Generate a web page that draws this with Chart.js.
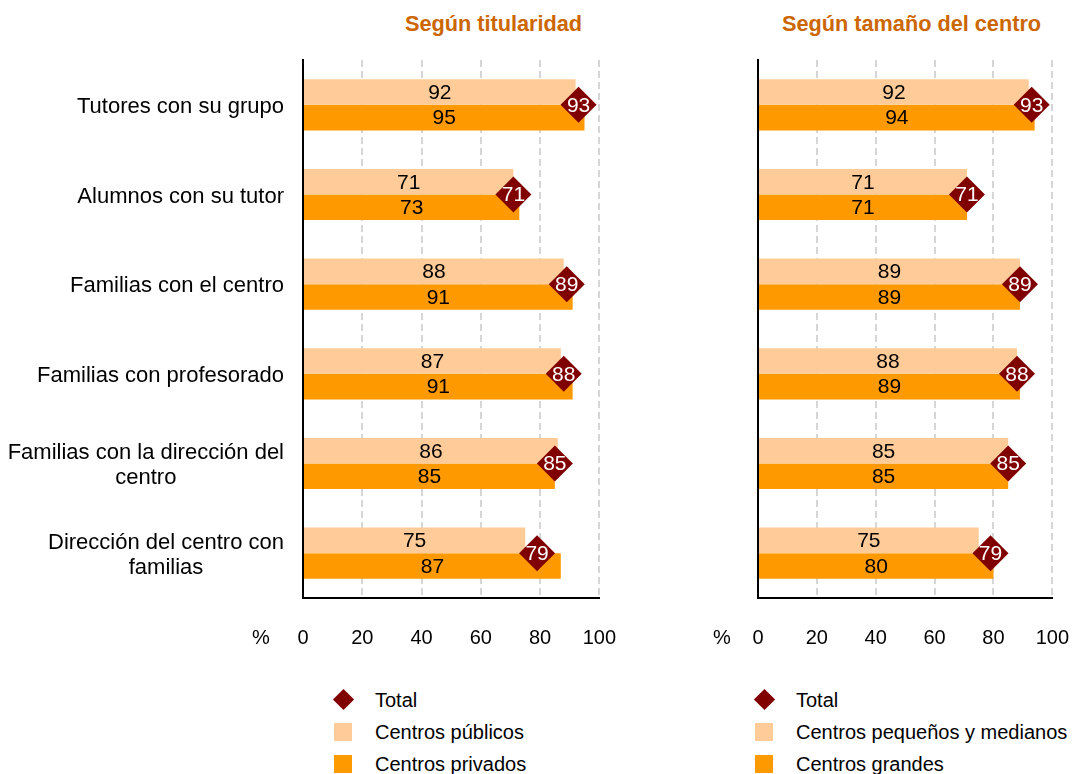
<!DOCTYPE html>
<html lang="es">
<head>
<meta charset="utf-8">
<script src="https://cdn.jsdelivr.net/npm/chart.js@4"></script>
<style>
    body { margin: 0; background: #fff; font-family: "Liberation Sans", Arial, sans-serif; }
    #page { position: relative; width: 1087px; height: 774px; overflow: hidden; }
    .box { position: absolute; top: 0; height: 680px; }
    .title { position: absolute; top: 12px; line-height: 24px; font-weight: bold; font-size: 21.7px; color: #CC6600; white-space: nowrap; }
    .legend { position: absolute; top: 684px; font-size: 20px; color: #000; }
    .legend div { position: relative; height: 32px; line-height: 32px; padding-left: 42px; white-space: nowrap; }
    .legend span { position: absolute; }
    .diamond { left: 3px; top: 8px; width: 15px; height: 15px; background: #800000; transform: rotate(45deg); }
    .sq { left: 1px; top: 7px; width: 18px; height: 18px; }
</style>
</head>
<body>
<div id="page">
    <div class="title" style="left:405px">Según titularidad</div>
    <div class="title" style="left:782px">Según tamaño del centro</div>
    <div class="box" style="left:0; width:644px"><canvas id="chart-titularidad"></canvas></div>
    <div class="box" style="left:700px; width:397px"><canvas id="chart-tamano"></canvas></div>
    <div class="legend" style="left:333px">
        <div><span class="diamond"></span>Total</div>
        <div><span class="sq" style="background:#FFCC99"></span>Centros públicos</div>
        <div><span class="sq" style="background:#FF9900"></span>Centros privados</div>
    </div>
    <div class="legend" style="left:754px">
        <div><span class="diamond"></span>Total</div>
        <div><span class="sq" style="background:#FFCC99"></span>Centros pequeños y medianos</div>
        <div><span class="sq" style="background:#FF9900"></span>Centros grandes</div>
    </div>
</div>
<script>
    // Data
    const categories = [
        ['Tutores con su grupo'],
        ['Alumnos con su tutor'],
        ['Familias con el centro'],
        ['Familias con profesorado'],
        ['Familias con la dirección del', 'centro'],
        ['Dirección del centro con', 'familias']
    ];
    const xTicks = [0, 20, 40, 60, 80, 100];

    const publicos = [92, 71, 88, 87, 86, 75];
    const privados = [95, 73, 91, 91, 85, 87];
    const totalTitularidad = [93, 71, 89, 88, 85, 79];

    const pequenos = [92, 71, 89, 88, 85, 75];
    const grandes = [94, 71, 89, 89, 85, 80];
    const totalTamano = [93, 71, 89, 88, 85, 79];

    const FONT = '"Liberation Sans", Arial, sans-serif';

    // Numbers inside bars and diamonds
    const valueLabels = {
        id: 'valueLabels',
        afterDatasetsDraw(chart) {
            const ctx = chart.ctx;
            ctx.save();
            ctx.font = '21px ' + FONT;
            ctx.textAlign = 'center';
            ctx.textBaseline = 'middle';
            chart.data.datasets.forEach((ds, i) => {
                const meta = chart.getDatasetMeta(i);
                meta.data.forEach((el, j) => {
                    if (ds.type === 'line') {
                        ctx.fillStyle = '#fff';
                        ctx.fillText(ds.data[j], el.x, el.y + 1);
                    } else {
                        ctx.fillStyle = '#000';
                        ctx.fillText(ds.data[j], (el.base + el.x) / 2, el.y + 1);
                    }
                });
            });
            ctx.restore();
        }
    };

    // Category names (right-aligned block, centred lines) and the % sign
    const sideText = {
        id: 'sideText',
        afterDraw(chart, args, opts) {
            const ctx = chart.ctx;
            const yScale = chart.scales.y;
            ctx.save();
            ctx.fillStyle = '#000';
            ctx.textBaseline = 'middle';
            ctx.textAlign = 'center';
            if (opts.labelRight) {
                ctx.font = '22px ' + FONT;
                categories.forEach((lines, i) => {
                    const w = Math.max(...lines.map(l => ctx.measureText(l).width));
                    const cx = opts.labelRight - w / 2;
                    const cy = yScale.getPixelForValue(i) + 2;
                    lines.forEach((l, k) => {
                        ctx.fillText(l, cx, cy + (k - (lines.length - 1) / 2) * 25);
                    });
                });
            }
            ctx.font = '20px ' + FONT;
            ctx.fillText('%', chart.chartArea.left - opts.percentOffset, 638);
            ctx.restore();
        }
    };

    function makeChart(id, light, dark, total, yWidth, padRight, labelRight, percentOffset) {
        return new Chart(document.getElementById(id), {
            type: 'bar',
            data: {
                labels: categories,
                datasets: [
                    { label: 'light', data: light, backgroundColor: '#FFCC99', order: 1 },
                    { label: 'dark', data: dark, backgroundColor: '#FF9900', order: 1 },
                    {
                        type: 'line',
                        indexAxis: 'y',
                        label: 'Total',
                        data: total,
                        showLine: false,
                        pointStyle: 'rectRot',
                        pointRadius: 18,
                        pointHoverRadius: 18,
                        pointBackgroundColor: '#800000',
                        pointBorderWidth: 0,
                        order: 0
                    }
                ]
            },
            options: {
                indexAxis: 'y',
                responsive: true,
                maintainAspectRatio: false,
                animation: false,
                categoryPercentage: 0.57,
                barPercentage: 1.0,
                layout: { autoPadding: false, padding: { top: 60, right: padRight, left: 0, bottom: 0 } },
                plugins: {
                    legend: { display: false },
                    tooltip: { enabled: false },
                    sideText: { labelRight, percentOffset }
                },
                scales: {
                    x: {
                        min: 0,
                        max: 100,
                        afterBuildTicks: axis => { axis.ticks = xTicks.map(v => ({ value: v })); },
                        afterFit: axis => { axis.height = 82; },
                        grid: {
                            drawTicks: false,
                            lineWidth: 2,
                            color: c => (c.tick && c.tick.value === 0 ? 'rgba(0,0,0,0)' : '#D6D6D6')
                        },
                        border: { display: true, color: '#000', width: 2, dash: [7, 4] },
                        ticks: { padding: 28, color: '#000', font: { family: FONT, size: 20 } }
                    },
                    y: {
                        afterFit: axis => { axis.width = yWidth; },
                        grid: { display: false },
                        border: { display: true, color: '#000', width: 2 },
                        ticks: { display: false }
                    }
                }
            },
            plugins: [valueLabels, sideText]
        });
    }

    makeChart('chart-titularidad', publicos, privados, totalTitularidad, 303, 41, 284, 42);
    makeChart('chart-tamano', pequenos, grandes, totalTamano, 58, 35, 0, 36);
</script>
</body>
</html>
